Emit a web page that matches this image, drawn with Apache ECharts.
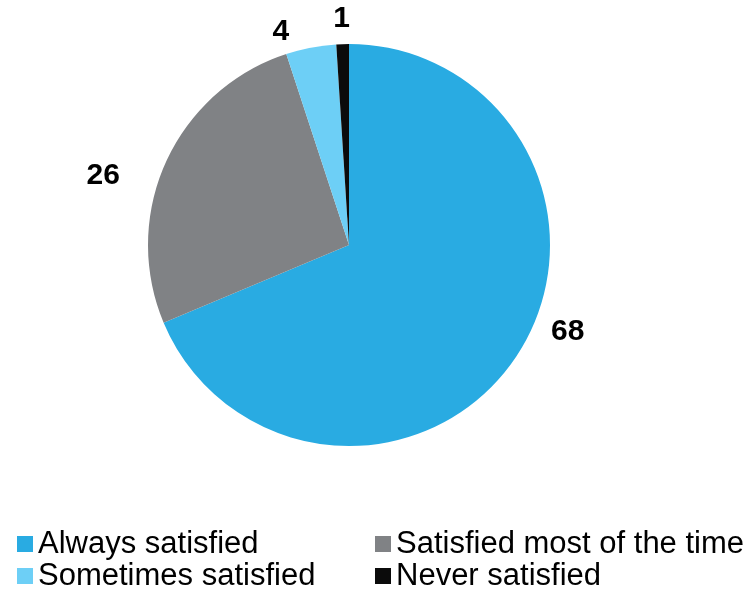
<!DOCTYPE html>
<html>
<head>
<meta charset="utf-8">
<script src="https://cdn.jsdelivr.net/npm/echarts@6/dist/echarts.min.js"></script>
<style>
html,body{margin:0;padding:0;background:#fff;}
#chart{width:755px;height:589px;}
</style>
</head>
<body>
<div id="chart"></div>
<script>
const categories = ['Always satisfied', 'Satisfied most of the time', 'Sometimes satisfied', 'Never satisfied'];
const values = [68, 26, 4, 1];
const colors = ['#29abe2', '#808285', '#6dcff6', '#0b0b0b'];
const legendCol1 = ['Always satisfied', 'Sometimes satisfied'];
const legendCol2 = ['Satisfied most of the time', 'Never satisfied'];

// label nudges (Excel best-fit placement)
const labelShift = [[13, -36], [-23, 23], [-13, 4], [13, -5]];

const FONT = '"Liberation Sans", Arial, Helvetica, sans-serif';
const chart = echarts.init(document.getElementById('chart'), null, {renderer: 'canvas'});
const legendBase = {
  orient: 'vertical',
  top: 528,
  height: 80,
  padding: 0,
  itemWidth: 16,
  itemHeight: 16,
  itemGap: 0,
  icon: 'rect',
  textStyle: {fontFamily: FONT, fontSize: 31, color: '#000', lineHeight: 32}
};
chart.setOption({
  animation: false,
  color: colors,
  legend: [
    Object.assign({}, legendBase, {left: 17, data: legendCol1}),
    Object.assign({}, legendBase, {left: 375, data: legendCol2})
  ],
  series: [{
    type: 'pie',
    center: [349, 245],
    radius: [0, 201],
    startAngle: 90,
    clockwise: true,
    avoidLabelOverlap: false,
    label: {
      show: true,
      position: 'outside',
      formatter: '{c}',
      fontFamily: FONT,
      fontSize: 30,
      fontWeight: 'bold',
      color: '#000',
      distanceToLabelLine: 5
    },
    labelLine: {show: false, length: 20, length2: 0},
    labelLayout: function (p) {
      const s = labelShift[p.dataIndex];
      return {dx: s[0], dy: s[1]};
    },
    emphasis: {disabled: true},
    data: categories.map((c, i) => ({name: c, value: values[i]}))
  }]
});
</script>
</body>
</html>
